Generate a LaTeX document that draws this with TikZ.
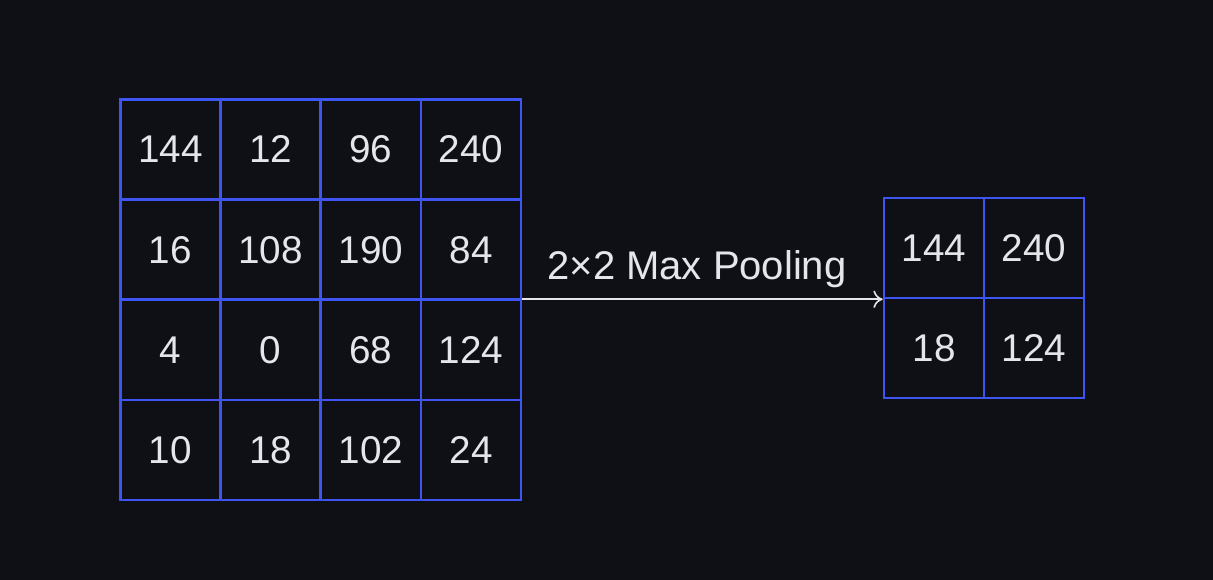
\documentclass[tikz,border=0pt]{standalone}
\usepackage{fontspec}
\setmainfont{Liberation Sans}
\usetikzlibrary{arrows.meta}
\definecolor{bg}{HTML}{0E1015}
\definecolor{gridblue}{HTML}{3F55F2}
\definecolor{txt}{HTML}{E6E6EA}
\tikzset{
  cell/.style={draw=gridblue, line width=1.9pt, minimum size=75pt, inner sep=0pt, text=txt, font=\fontsize{29}{32}\selectfont},
  conn/.style={draw=txt, line width=1.2pt, -{To[length=7pt,width=13pt]}},
  lbl/.style={text=txt, font=\fontsize{30}{33}\selectfont, inner sep=0pt}
}
\begin{document}
\begin{tikzpicture}[x=0.75pt,y=-0.75pt]
\fill[bg] (0,0) rectangle (1213,580);
\useasboundingbox (0,0) rectangle (1213,580);
% left grid
\foreach \r/\row in {0/{144,12,96,240},1/{16,108,190,84},2/{4,0,68,124},3/{10,18,102,24}}{
  \foreach \v [count=\c from 0] in \row {
    \node[cell] (a\r\c) at (170.5+100.2*\c,149.5+100.2*\r) {\v};
  }
}
% right grid
\node[cell] (b00) at (934,248) {144};
\node[cell] (b01) at (1034,248) {240};
\node[cell] (b10) at (934,348) {18};
\node[cell] (b11) at (1034,348) {124};
\coordinate (e) at (b00.south west);
\draw[conn] (a13.east |- e) -- (e);
\node[lbl, anchor=base] (t) at (697,280) {2×2 Max Pooling};
\end{tikzpicture}
\end{document}
